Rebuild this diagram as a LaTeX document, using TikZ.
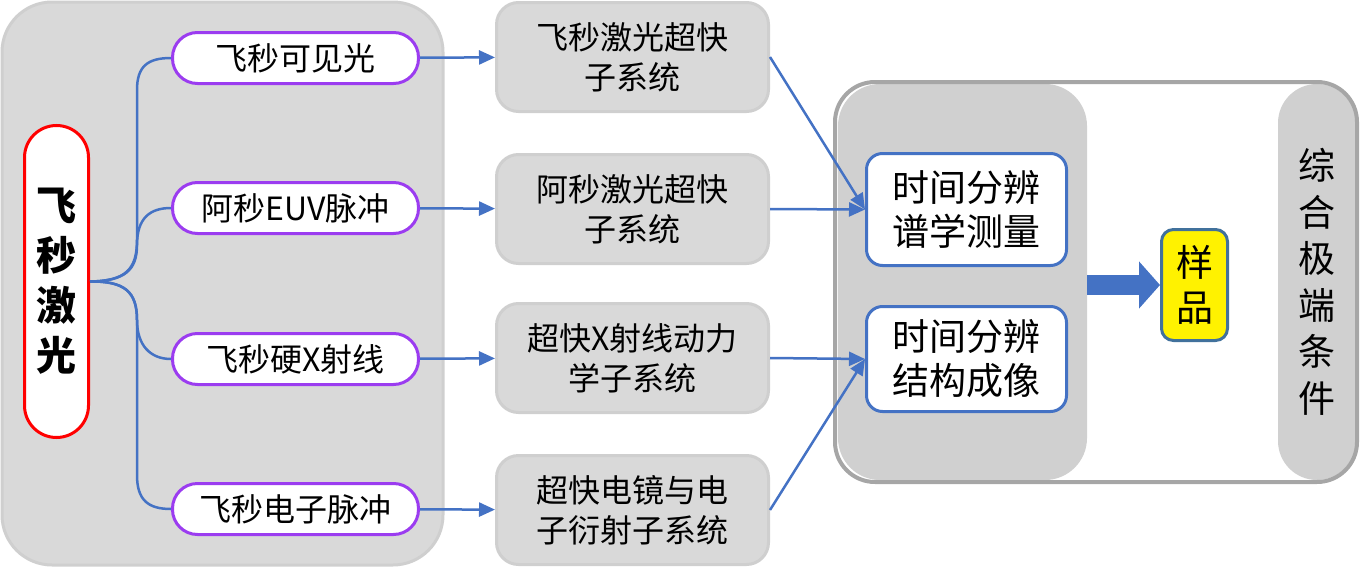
\documentclass[tikz,border=0pt]{standalone}
\usepackage{fontspec}
\setmainfont{Noto Sans CJK SC}
\usetikzlibrary{arrows.meta}

\definecolor{lineblue}{HTML}{4472C4}
\definecolor{pillpurple}{HTML}{9B3CF0}
\definecolor{panelgray}{HTML}{D9D9D9}
\definecolor{edgegray}{HTML}{CFCFCF}
\definecolor{framegray}{HTML}{A6A6A6}
\definecolor{samplerim}{HTML}{41719C}

\begin{document}
\begin{tikzpicture}[
                x = 1pt, y = -1pt, % pixel grid, y downwards
                every node/.style = {inner sep = 0pt, align = center},
                pill/.style = {draw = pillpurple, line width = 3pt, fill = white,
                    rounded corners = 25pt, minimum width = 246pt, minimum height = 51pt,
                    font = \fontsize{32}{40}\selectfont},
                sub/.style = {draw = edgegray, line width = 3pt, fill = panelgray,
                    rounded corners = 22pt, minimum width = 272pt, minimum height = 109pt,
                    font = \fontsize{32}{40}\selectfont},
                meas/.style = {draw = lineblue, line width = 3pt, fill = white,
                    rounded corners = 16pt, minimum width = 200pt,
                    font = \fontsize{37}{44}\selectfont},
                branch/.style = {draw = lineblue, line width = 2.5pt},
                link/.style = {draw = lineblue, line width = 2.5pt,
                    -{Triangle[length=16pt, width=14pt]}} % arrow head style
            ]

            \useasboundingbox (0,0) rectangle (1360,570);

            % left panel
            \draw[fill = panelgray, draw = edgegray, line width = 3pt, rounded corners = 50pt]
                (2,2) rectangle (443,565);

            \node (fs) [draw = red, line width = 3pt, fill = white, rounded corners = 32pt,
                minimum width = 64pt, minimum height = 312pt,
                font = \fontsize{40}{50}\selectfont\bfseries] at (56.5,281.5) {飞\\秒\\激\\光};

            \node (vis) [pill] at (295.5,58) {飞秒可见光};
            \node (euv) [pill] at (295.5,208) {阿秒EUV脉冲};
            \node (hx) [pill] at (295.5,359) {飞秒硬X射线};
            \node (ele) [pill] at (295.5,509) {飞秒电子脉冲};

            \draw[branch] (fs.east) .. controls (125,281) and (137,270) .. (137,240)
                -- (137,90) .. controls (137,66) and (148,58) .. (vis.west);
            \draw[branch] (fs.east) .. controls (125,281) and (137,270) .. (137,245)
                .. controls (137,218) and (150,208) .. (euv.west);
            \draw[branch] (fs.east) .. controls (125,281) and (137,292) .. (137,320)
                .. controls (137,345) and (150,359) .. (hx.west);
            \draw[branch] (fs.east) .. controls (125,281) and (137,292) .. (137,320)
                -- (137,475) .. controls (137,500) and (148,509) .. (ele.west);

            % subsystems
            \node (sys1) [sub] at (632.5,57) {飞秒激光超快\\子系统};
            \node (sys2) [sub] at (632.5,209) {阿秒激光超快\\子系统};
            \node (sys3) [sub] at (632.5,358) {超快X射线动力\\学子系统};
            \node (sys4) [sub] at (632.5,510) {超快电镜与电\\子衍射子系统};

            \draw[link] (vis) -- (sys1); \draw[link] (euv) -- (sys2);
            \draw[link] (hx) -- (sys3); \draw[link] (ele) -- (sys4);

            % right frame
            \fill[white, rounded corners = 40pt] (835,82) rectangle (1357,482);
            \node (lab) [fill = panelgray!96!black, rounded corners = 42pt,
                minimum width = 249pt, minimum height = 396pt] at (962.5,282) {};
            \node (cond) [fill = panelgray!96!black, rounded corners = 39pt,
                minimum width = 78pt, minimum height = 396pt,
                font = \fontsize{37}{46.5}\selectfont] at (1317,282) {综\\合\\极\\端\\条\\件};
            \draw[draw = framegray, line width = 4pt, rounded corners = 40pt]
                (835,82) rectangle (1357,482);

            \node (spec) [meas, minimum height = 112pt] at (966.5,209.5) {时间分辨\\谱学测量};
            \node (img) [meas, minimum height = 105pt] at (966.5,359) {时间分辨\\结构成像};

            \node (smp) [draw = samplerim, line width = 3pt, fill = yellow, rounded corners = 12pt,
                minimum width = 66pt, minimum height = 111pt,
                font = \fontsize{37}{45}\selectfont] at (1194.5,285) {样\\品};

            \draw[link] (sys1.east) -- (spec.west);
            \draw[link] (sys2.east) -- (spec.west);
            \draw[link] (sys3.east) -- (img.west);
            \draw[link] (sys4.east) -- (img.west);

            \draw[lineblue, line width = 20pt, -{Triangle[length=21pt, width=46pt]}]
                (lab.east |- smp.west) -- (smp.west);

        \end{tikzpicture}
\end{document}
